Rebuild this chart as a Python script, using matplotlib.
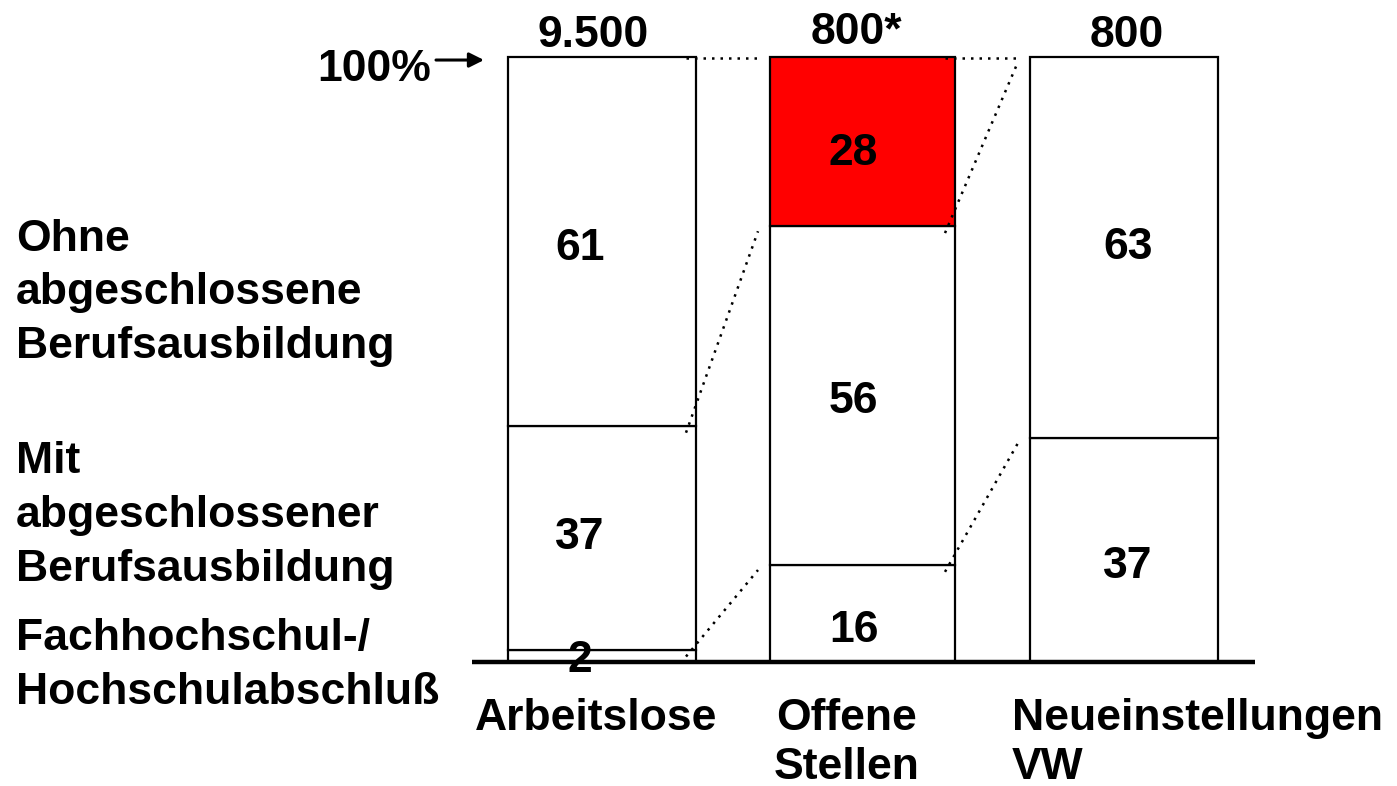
import numpy as np
import matplotlib.pyplot as plt

plt.rcParams['font.family'] = ['Liberation Sans', 'DejaVu Sans']

# Daten (Anteile in %, von unten nach oben)
categories = ['Arbeitslose', 'Offene\nStellen', 'Neueinstellungen\nVW']
totals = ['9.500', '800*', '800']
segments = [
    [2, 37, 61],       # Arbeitslose
    [16, 56, 28],      # Offene Stellen
    [37, 63],          # Neueinstellungen VW
]
seg_colors = [
    ['white', 'white', 'white'],
    ['white', 'white', 'red'],
    ['white', 'white'],
]
row_labels = ['Ohne\nabgeschlossene\nBerufsausbildung',
              'Mit\nabgeschlossener\nBerufsausbildung',
              'Fachhochschul-/\nHochschulabschluß']

# Layout (Pixel-Koordinaten in x, Prozent in y)
bar_x = [602, 862.5, 1124]
bar_w = [188, 185, 188]
label_dx = [-22, -9, 4]                        # Zahlen in den Balken, x-Versatz
label_dy = [[0, 0, -7], [-17, -6, -12], [-16, 0]]  # y-Versatz in Pixel
total_x = [593, 856, 1127]
px_per_pct = 6.05
base_px = 662
H, W = 786, 1397

fig = plt.figure(figsize=(W / 100, H / 100), dpi=100)
ax = fig.add_axes([0, 0, 1, 1])
ax.set_xlim(0, W)
ax.set_ylim(-(H - base_px) / px_per_pct, base_px / px_per_pct)
ax.axis('off')

fs = 32
for i, segs in enumerate(segments):
    bottoms = np.concatenate([[0], np.cumsum(segs)[:-1]])
    ax.bar([bar_x[i]] * len(segs), segs, bottom=bottoms, width=bar_w[i],
           color=seg_colors[i], edgecolor='black', linewidth=1.6, zorder=2)
    for j, (v, b) in enumerate(zip(segs, bottoms)):
        yc = b + v / 2 if v >= 5 else b + 0.3
        yc += label_dy[i][j] / px_per_pct
        ax.text(bar_x[i] + label_dx[i], yc, str(v), ha='center', va='center',
                fontsize=fs, fontweight='bold', zorder=5)
    ax.text(total_x[i], 103.5 + (i == 1) * 0.5, totals[i], ha='center', va='center',
            fontsize=fs, fontweight='bold')

# Verbindungslinien (gepunktet)
links = [(0, 1, [(100, 100), (39, 72), (2, 16)]),
         (1, 2, [(100, 100), (72, 100), (16, 37)])]
for a, b, pairs in links:
    x0 = bar_x[a] + bar_w[a] / 2 - 10
    x1 = bar_x[b] - bar_w[b] / 2 - 12
    for ya, yb in pairs:
        if ya == 100 and yb == 100:
            ys = (ya - 0.1, yb - 0.1)
        else:
            ys = (ya - 1.1, yb - 0.8)
        ax.plot([x0, x1], ys, color='black', linestyle=(0, (1, 2.4)),
                linewidth=1.8, zorder=3)

# Grundlinie
ax.plot([472, 1255], [0, 0], color='black', linewidth=3.2, zorder=4,
        solid_capstyle='butt')

# 100%-Pfeil
ax.text(431, 98.0, '100%', ha='right', va='center', fontsize=fs, fontweight='bold')
ax.annotate('', xy=(484, 99.5), xytext=(436, 99.5),
            arrowprops=dict(arrowstyle='-|>', color='black', lw=2.2,
                            mutation_scale=22, shrinkA=0, shrinkB=0))

# Zeilenbeschriftungen links
row_y = [61.0, 24.2, -0.6]
for lab, y in zip(row_labels, row_y):
    ax.text(16, y, lab, ha='left', va='center', fontsize=fs, fontweight='bold',
            linespacing=1.4)

# Kategorien unten
cat_pos = [(596, 'center'), (847, 'center'), (1012, 'left')]
for lab, (x, ha) in zip(categories, cat_pos):
    ax.text(x, -5.9, lab, ha=ha, va='top', fontsize=fs, fontweight='bold',
            linespacing=1.25)

fig.savefig('out.png', dpi=100)
